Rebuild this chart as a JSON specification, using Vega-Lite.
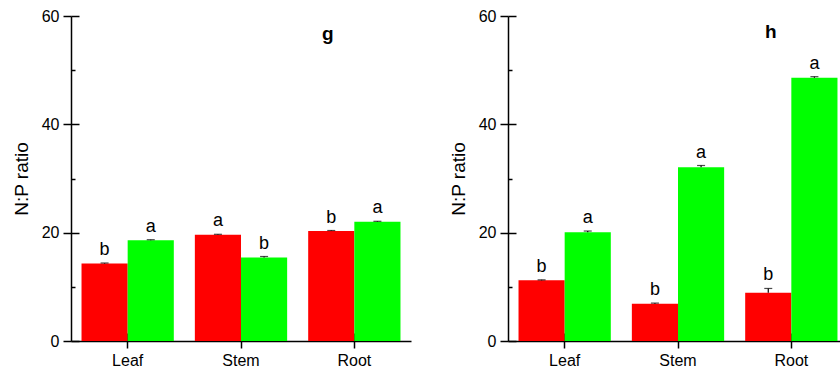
{
  "$schema": "https://vega.github.io/schema/vega-lite/v6.json",
  "padding": {"left": 12, "top": 8, "right": 0, "bottom": 0},
  "spacing": 38,
  "config": {
    "font": "Liberation Sans",
    "view": {"stroke": null},
    "axis": {"domainColor": "black", "tickColor": "black", "labelColor": "black", "titleColor": "black", "domainWidth": 1.5, "tickWidth": 1.5, "grid": false}
  },
  "datasets": {
    "g": [
      {"organ": "Leaf", "group": "T1", "value": 14.3, "upper": 14.4, "letter": "b"},
      {"organ": "Leaf", "group": "T2", "value": 18.6, "upper": 18.7, "letter": "a"},
      {"organ": "Stem", "group": "T1", "value": 19.6, "upper": 19.7, "letter": "a"},
      {"organ": "Stem", "group": "T2", "value": 15.4, "upper": 15.6, "letter": "b"},
      {"organ": "Root", "group": "T1", "value": 20.3, "upper": 20.4, "letter": "b"},
      {"organ": "Root", "group": "T2", "value": 22.0, "upper": 22.1, "letter": "a"}
    ],
    "h": [
      {"organ": "Leaf", "group": "T1", "value": 11.2, "upper": 11.3, "letter": "b"},
      {"organ": "Leaf", "group": "T2", "value": 20.1, "upper": 20.3, "letter": "a"},
      {"organ": "Stem", "group": "T1", "value": 6.9, "upper": 7.0, "letter": "b"},
      {"organ": "Stem", "group": "T2", "value": 32.1, "upper": 32.4, "letter": "a"},
      {"organ": "Root", "group": "T1", "value": 8.9, "upper": 9.7, "letter": "b"},
      {"organ": "Root", "group": "T2", "value": 48.6, "upper": 48.8, "letter": "a"}
    ]
  },
  "hconcat": [
    {
      "width": 340,
      "height": 325,
      "data": {"name": "g"},
      "title": {"text": "g", "anchor": "start", "frame": "group", "dx": 251, "dy": 36, "offset": 0, "fontSize": 19, "fontWeight": "bold", "color": "black"},
      "encoding": {
        "x": {"field": "organ", "type": "nominal", "sort": ["Leaf", "Stem", "Root"], "scale": {"paddingInner": 0, "paddingOuter": 0}},
        "xOffset": {"field": "group", "type": "nominal", "sort": ["T1", "T2"], "scale": {"paddingInner": 0, "paddingOuter": 0.228}},
        "y": {"field": "value", "type": "quantitative", "scale": {"domain": [0, 60], "nice": false, "zero": true}}
      },
      "layer": [
        {
          "mark": {"type": "bar"},
          "encoding": {
            "x": {"field": "organ", "type": "nominal", "sort": ["Leaf", "Stem", "Root"], "axis": {"orient": "bottom", "title": null, "labelAngle": 0, "tickSize": 7, "labelFontSize": 16, "labelPadding": 4}},
            "y": {"field": "value", "type": "quantitative", "axis": {"orient": "left", "values": [0, 20, 40, 60], "tickSize": 8, "labelFontSize": 16, "labelPadding": 4, "title": "N:P ratio", "titleFontSize": 19, "titleFontWeight": "normal", "titlePadding": 10}},
            "color": {"field": "group", "type": "nominal", "scale": {"domain": ["T1", "T2"], "range": ["#ff0000", "#00ff00"]}, "legend": null}
          }
        },
        {
          "mark": {"type": "rule", "color": "black", "strokeWidth": 1.2},
          "encoding": {
            "x": {"field": "organ", "type": "nominal", "sort": ["Leaf", "Stem", "Root"], "axis": {"orient": "bottom", "title": null, "labels": false, "domain": false, "tickSize": -8}},
            "y": {"field": "value", "type": "quantitative", "axis": {"orient": "left", "values": [0, 20, 40, 60], "labels": false, "domain": false, "title": null, "tickSize": -8}},
            "y2": {"field": "upper"}
          }
        },
        {
          "mark": {"type": "tick", "color": "black", "size": 8, "thickness": 1.2},
          "encoding": {
            "x": {"field": "organ", "type": "nominal", "sort": ["Leaf", "Stem", "Root"], "axis": null},
            "y": {"field": "upper", "type": "quantitative", "axis": {"orient": "left", "values": [10, 30, 50], "labels": false, "domain": false, "title": null, "tickSize": -4}}
          }
        },
        {
          "mark": {"type": "text", "baseline": "alphabetic", "dy": -8, "fontSize": 18, "color": "black"},
          "encoding": {
            "x": {"field": "organ", "type": "nominal", "sort": ["Leaf", "Stem", "Root"], "axis": null},
            "y": {"field": "upper", "type": "quantitative", "axis": null},
            "text": {"field": "letter"}
          }
        }
      ],
      "resolve": {"axis": {"x": "independent", "y": "independent"}}
    },
    {
      "width": 340,
      "height": 325,
      "data": {"name": "h"},
      "title": {"text": "h", "anchor": "start", "frame": "group", "dx": 257, "dy": 34, "offset": 0, "fontSize": 19, "fontWeight": "bold", "color": "black"},
      "encoding": {
        "x": {"field": "organ", "type": "nominal", "sort": ["Leaf", "Stem", "Root"], "scale": {"paddingInner": 0, "paddingOuter": 0}},
        "xOffset": {"field": "group", "type": "nominal", "sort": ["T1", "T2"], "scale": {"paddingInner": 0, "paddingOuter": 0.228}},
        "y": {"field": "value", "type": "quantitative", "scale": {"domain": [0, 60], "nice": false, "zero": true}}
      },
      "layer": [
        {
          "mark": {"type": "bar"},
          "encoding": {
            "x": {"field": "organ", "type": "nominal", "sort": ["Leaf", "Stem", "Root"], "axis": {"orient": "bottom", "title": null, "labelAngle": 0, "tickSize": 7, "labelFontSize": 16, "labelPadding": 4}},
            "y": {"field": "value", "type": "quantitative", "axis": {"orient": "left", "values": [0, 20, 40, 60], "tickSize": 8, "labelFontSize": 16, "labelPadding": 4, "title": "N:P ratio", "titleFontSize": 19, "titleFontWeight": "normal", "titlePadding": 10}},
            "color": {"field": "group", "type": "nominal", "scale": {"domain": ["T1", "T2"], "range": ["#ff0000", "#00ff00"]}, "legend": null}
          }
        },
        {
          "mark": {"type": "rule", "color": "black", "strokeWidth": 1.2},
          "encoding": {
            "x": {"field": "organ", "type": "nominal", "sort": ["Leaf", "Stem", "Root"], "axis": {"orient": "bottom", "title": null, "labels": false, "domain": false, "tickSize": -8}},
            "y": {"field": "value", "type": "quantitative", "axis": {"orient": "left", "values": [0, 20, 40, 60], "labels": false, "domain": false, "title": null, "tickSize": -8}},
            "y2": {"field": "upper"}
          }
        },
        {
          "mark": {"type": "tick", "color": "black", "size": 8, "thickness": 1.2},
          "encoding": {
            "x": {"field": "organ", "type": "nominal", "sort": ["Leaf", "Stem", "Root"], "axis": null},
            "y": {"field": "upper", "type": "quantitative", "axis": {"orient": "left", "values": [10, 30, 50], "labels": false, "domain": false, "title": null, "tickSize": -4}}
          }
        },
        {
          "mark": {"type": "text", "baseline": "alphabetic", "dy": -8, "fontSize": 18, "color": "black"},
          "encoding": {
            "x": {"field": "organ", "type": "nominal", "sort": ["Leaf", "Stem", "Root"], "axis": null},
            "y": {"field": "upper", "type": "quantitative", "axis": null},
            "text": {"field": "letter"}
          }
        }
      ],
      "resolve": {"axis": {"x": "independent", "y": "independent"}}
    }
  ]
}
